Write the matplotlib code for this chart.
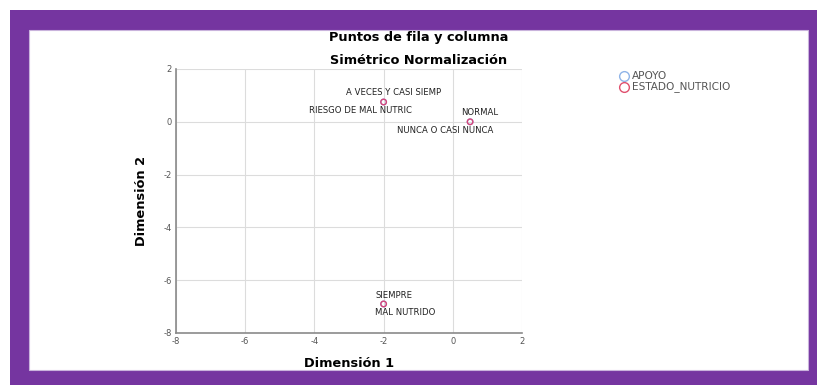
import matplotlib
matplotlib.use("Agg")
import matplotlib.pyplot as plt
from matplotlib.patches import Rectangle

# row points (APOYO) and column points (ESTADO_NUTRICIO), same coordinates
apoyo_labels = ["A VECES Y CASI SIEMP", "NUNCA O CASI NUNCA", "SIEMPRE"]
apoyo_x = [-2.0, 0.5, -2.0]
apoyo_y = [0.75, 0.0, -6.9]
estado_labels = ["RIESGO DE MAL NUTRIC", "NORMAL", "MAL NUTRIDO"]
estado_x = [-2.0, 0.5, -2.0]
estado_y = [0.75, 0.0, -6.9]
ticks = [-8, -6, -4, -2, 0, 2]

W, H = 817, 385
plt.rcParams["font.family"] = ["DejaVu Sans"]
plt.rcParams["axes.unicode_minus"] = False
fig = plt.figure(figsize=(W / 100, H / 100), dpi=100)

# purple frame
purple = "#7535a0"
fig.patches.append(Rectangle((10 / W, 0), 1 - 10 / W, 1 - 10 / H, transform=fig.transFigure,
                             facecolor=purple, edgecolor="none", zorder=-2))
fig.patches.append(Rectangle((29 / W, 15 / H), (808 - 29) / W, (370 - 30) / H, transform=fig.transFigure,
                             facecolor="white", edgecolor="#c9b3dc", linewidth=0.8, zorder=-1))

ax = fig.add_axes([176 / W, 1 - 333 / H, (522 - 176) / W, (333 - 69) / H])
ax.set_xlim(-8, 2)
ax.set_ylim(-8, 2)
ax.set_xticks(ticks)
ax.set_yticks(ticks)
ax.grid(True, color="#dcdcdc", linewidth=0.8)
ax.set_axisbelow(True)
for s in ["top", "right"]:
    ax.spines[s].set_visible(False)
for s in ["left", "bottom"]:
    ax.spines[s].set_color("#8a8a8a")
    ax.spines[s].set_linewidth(1.2)
ax.tick_params(length=0, labelsize=6, labelcolor="#555555", pad=3)

ax.scatter(apoyo_x, apoyo_y, s=16, facecolors="none", edgecolors="#8fb4e8", linewidths=1.0, zorder=3)
ax.scatter(estado_x, estado_y, s=16, facecolors="none", edgecolors="#d8457a", linewidths=1.0, zorder=4)

# label offsets in pixels (placement as in SPSS output)
apoyo_off = [(10, 9), (-25, -9), (10, 8)]
apoyo_ha = ["center", "center", "center"]
estado_off = [(-23, -9), (10, 9), (-9, -9)]
estado_ha = ["center", "center", "left"]
for lab, x, y, off, ha in zip(apoyo_labels, apoyo_x, apoyo_y, apoyo_off, apoyo_ha):
    ax.annotate(lab, (x, y), xytext=off, textcoords="offset pixels", ha=ha, va="center",
                fontsize=6.1, color="#222222")
for lab, x, y, off, ha in zip(estado_labels, estado_x, estado_y, estado_off, estado_ha):
    ax.annotate(lab, (x, y), xytext=off, textcoords="offset pixels", ha=ha, va="center",
                fontsize=6.1, color="#222222")

ax.set_xlabel("Dimensión 1", fontsize=9.3, fontweight="bold", labelpad=8)
ax.set_ylabel("Dimensión 2", fontsize=9.3, fontweight="bold", labelpad=11)

fig.text(419 / W, 1 - 38 / H, "Puntos de fila y columna", ha="center", va="center",
         fontsize=9.3, fontweight="bold")
fig.text(419 / W, 1 - 60 / H, "Simétrico Normalización", ha="center", va="center",
         fontsize=9.3, fontweight="bold")

# legend
leg_items = [("APOYO", "#8fb4e8"), ("ESTADO_NUTRICIO", "#e0506e")]
for i, (name, col) in enumerate(leg_items):
    yy = 1 - (76 + 11 * i) / H
    fig.lines.append(plt.Line2D([624 / W], [yy], transform=fig.transFigure, marker="o",
                                markersize=7, markerfacecolor="none", markeredgecolor=col,
                                markeredgewidth=1.0, linestyle="none"))
    fig.text(632 / W, yy, name, ha="left", va="center", fontsize=7.6, color="#555555")

fig.savefig("out.png", dpi=100)
